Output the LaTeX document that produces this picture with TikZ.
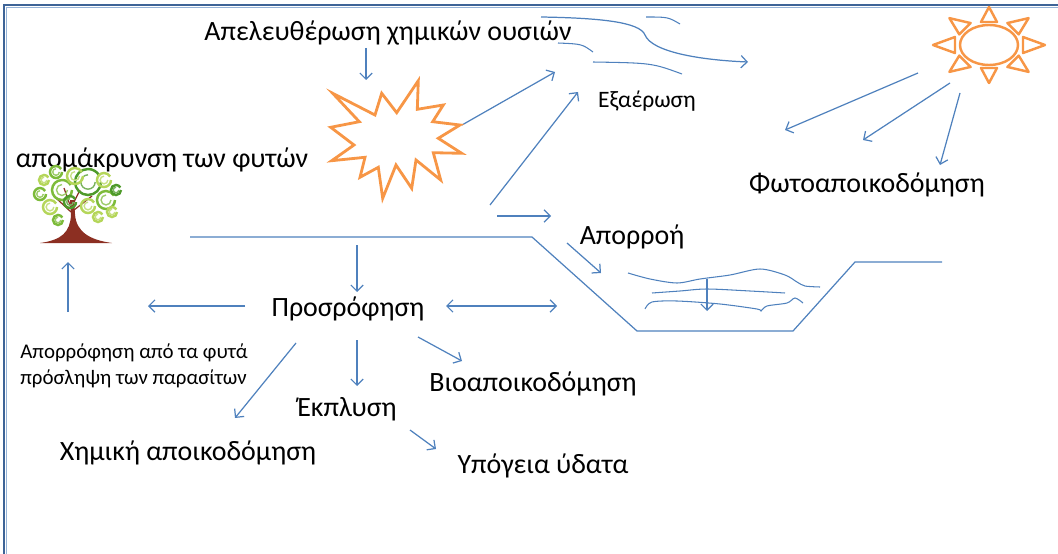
\documentclass[tikz,border=0pt]{standalone}
\usepackage{fontspec}
\setmainfont{Carlito}
\usetikzlibrary{arrows.meta}

\definecolor{lineblue}{HTML}{4F81BD}
\definecolor{sunorange}{HTML}{F79646}
\definecolor{frameblue}{HTML}{3E6497}
\definecolor{framelight}{HTML}{95B3D7}
\definecolor{bark}{HTML}{8C2F22}
\definecolor{leafdark}{HTML}{4E9A2A}
\definecolor{leafmid}{HTML}{7DBB3A}
\definecolor{leaflight}{HTML}{B5D65A}

\tikzset{
  tip/.tip={Straight Barb[length=3.5pt,width=7pt]},
  flow/.style={lineblue, line width=0.7pt, -tip},
  twoway/.style={lineblue, line width=0.7pt, tip-tip},
  ground/.style={lineblue, line width=0.7pt},
  water/.style={lineblue, line width=0.6pt},
  orangeline/.style={sunorange, line width=1.6pt, line join=miter},
  big/.style={font=\fontsize{15.9}{19}\selectfont, inner sep=0pt},
  mid/.style={font=\fontsize{13.4}{16}\selectfont, inner sep=0pt},
  small/.style={font=\fontsize{11.9}{14.5}\selectfont, inner sep=0pt, align=left},
}

\begin{document}
\begin{tikzpicture}[x=0.02cm,y=-0.02cm]
\useasboundingbox (0,0) rectangle (1058,554);

% frame: top and left edges only
\draw[frameblue, line width=1.3pt] (4,554) -- (4,5) -- (1058,5);
\draw[framelight, line width=0.4pt] (6.5,554) -- (6.5,7.5) -- (1058,7.5);

% labels
\node[big] (release) at (388,33) {Απελευθέρωση χημικών ουσιών};
\node[mid] (evap) at (647,101) {Εξαέρωση};
\node[big] (photo) at (867,185) {Φωτοαποικοδόμηση};
\node[big] (runoff) at (632,237) {Απορροή};
\node[big] (removal) at (162,160) {απομάκρυνση των φυτών};
\node[big] (sorption) at (348,309) {Προσρόφηση};
\node[small, anchor=west] (uptake) at (20,366) {Απορρόφηση από τα φυτά\\πρόσληψη των παρασίτων};
\node[big] (bio) at (533,384) {Βιοαποικοδόμηση};
\node[big] (leach) at (347,409) {Έκπλυση};
\node[big] (chem) at (188,453) {Χημική αποικοδόμηση};
\node[big] (groundw) at (543,466) {Υπόγεια ύδατα};

% arrow ends
\coordinate (rel1) at (366,48);   \coordinate (rel2) at (366,80);
\coordinate (bst1) at (462,125);  \coordinate (bst2) at (555,72);
\coordinate (ev1) at (490,205);   \coordinate (ev2) at (578,92);
\coordinate (ro1) at (497,216);   \coordinate (ro2) at (551,216);
\coordinate (sun1) at (918,73);   \coordinate (sun1e) at (785,130);
\coordinate (sun2) at (950,83);   \coordinate (sun2e) at (863,140);
\coordinate (sun3) at (960,93);   \coordinate (sun3e) at (940,165);
\coordinate (ch1) at (567,243);   \coordinate (ch2) at (601,273);
\coordinate (wd1) at (707,279);   \coordinate (wd2) at (707,311);
\coordinate (gd1) at (357,245);   \coordinate (gd2) at (357,292);
\coordinate (lf1) at (245,306);   \coordinate (lf2) at (148,306);
\coordinate (rt1) at (446,306);   \coordinate (rt2) at (557,306);
\coordinate (tr1) at (68,312);    \coordinate (tr2) at (68,262);
\coordinate (dl1) at (296,343);   \coordinate (dl2) at (235,418);
\coordinate (dd1) at (357,340);   \coordinate (dd2) at (357,386);
\coordinate (dr1) at (418,337);   \coordinate (dr2) at (462,361);
\coordinate (lc1) at (410,430);   \coordinate (lc2) at (436,449);

\draw[flow] (rel1) -- (rel2);
\draw[flow] (bst1) -- (bst2);
\draw[flow] (ev1) -- (ev2);
\draw[flow] (ro1) -- (ro2);
\draw[flow] (sun1) -- (sun1e);
\draw[flow] (sun2) -- (sun2e);
\draw[flow] (sun3) -- (sun3e);
\draw[flow] (ch1) -- (ch2);
\draw[flow] (wd1) -- (wd2);
\draw[flow] (gd1) -- (gd2);
\draw[flow] (lf1) -- (lf2);
\draw[twoway] (rt1) -- (rt2);
\draw[flow] (tr1) -- (tr2);
\draw[flow] (dl1) -- (dl2);
\draw[flow] (dd1) -- (dd2);
\draw[flow] (dr1) -- (dr2);
\draw[flow] (lc1) -- (lc2);

% wind
\draw[flow] (541,17) .. controls (600,18) and (640,22) .. (645,35) .. controls (652,52) and (700,60) .. (748,62);
\draw[water] (646,17) .. controls (668,17) .. (680,24);
\draw[water] (558,43) .. controls (582,44) .. (593,52);
\draw[water] (593,62) .. controls (652,63) .. (682,74);

% ground surface and channel
\draw[ground] (190,237) -- (532,237) -- (637,331) -- (793,331) -- (855,262) -- (942,262);
\draw[water] plot[smooth] coordinates {(628,273) (650,279) (677,283) (700,279) (730,275) (760,269) (785,275) (797,282) (805,286) (820,287)};
\draw[water] plot[smooth] coordinates {(652,293) (680,291) (707,289) (750,291) (785,293)};
\draw[water] plot[smooth] coordinates {(645,309) (652,302) (677,301) (720,304) (757,309) (761,311) (767,306) (787,303) (795,298) (803,303)};

% burst
\draw[orangeline] (332.7,93.3) -- (375,115) -- (381.7,93.3) -- (396.7,112.7) -- (418.3,80.7)
  -- (417.3,109.3) -- (443.3,105) -- (432.7,121.7) -- (460,125) -- (438.3,138.3)
  -- (461.7,153.3) -- (433.3,152.7) -- (440.7,180) -- (416,160) -- (411.7,188.3)
  -- (396,165) -- (382.7,198.3) -- (378.3,167.3) -- (360,177.3) -- (365,157.3)
  -- (331.7,160.7) -- (354,145) -- (330.7,127.3) -- (359.3,121.7) -- cycle;

% sun
\draw[sunorange, line width=1.4pt] (989,45) ellipse[x radius=29, y radius=20];
\foreach \a in {0,45,...,315}
  \draw[sunorange, line width=1.4pt, line join=round]
    ({989+56*cos(\a)},{45-38*sin(\a)})
    -- ({989+34*cos(\a)-8*sin(\a)},{45-23*sin(\a)-8*cos(\a)})
    -- ({989+34*cos(\a)+8*sin(\a)},{45-23*sin(\a)+8*cos(\a)}) -- cycle;

% tree
\fill[bark] (40,243) .. controls (62,240) and (70,232) .. (71,215) -- (70,200) -- (74,200)
  -- (75,214) .. controls (76,232) and (90,240) .. (112,243) -- cycle;
\draw[bark, line width=0.7pt] (71,212) -- (56,198) (74,210) -- (92,196) (72,206) -- (80,190) (71,208) -- (64,188);
\foreach \x/\y/\r/\c in {88/182/13/leafdark, 62/190/10/leafmid, 106/200/9/leafmid,
    50/207/7/leaflight, 75/176/8/leaflight, 104/180/7/leaflight, 56/172/6/leafmid,
    88/206/7/leaflight, 116/190/5/leafdark, 40/194/6/leafmid, 70/202/6/leafdark,
    98/217/5/leaflight, 58/220/5/leafmid, 112/212/5/leaflight, 44/180/5/leaflight}
{
  \draw[\c, line width=1.4pt] (\x+\r,\y) arc[start angle=0, end angle=330, radius=\r];
  \draw[\c!75, line width=0.8pt] (\x+\r*0.55,\y) arc[start angle=0, end angle=270, radius=\r*0.55];
}
\end{tikzpicture}
\end{document}
